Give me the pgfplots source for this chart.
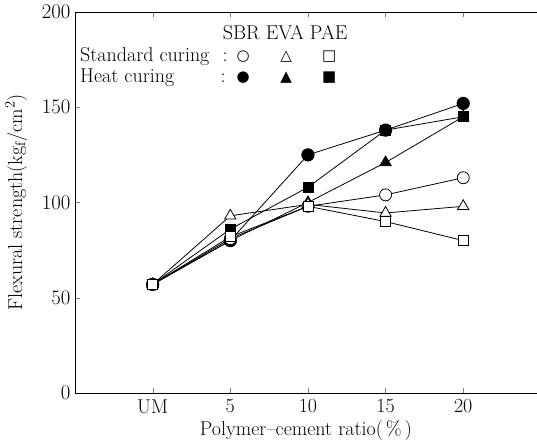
\documentclass[border=0pt]{standalone}
\usepackage{pgfplots}
\pgfplotsset{compat=1.18}
\usepackage{fontspec}
\newfontfamily\symfont{DejaVu Sans}
\newcommand{\bigf}{\fontsize{20}{23}\selectfont}
\begin{document}
\begin{tikzpicture}
\begin{axis}[
  scale only axis,
  width=462pt, height=381pt,
  xmin=-1, xmax=4.95,
  ymin=0, ymax=200,
  axis x line=box,
  axis y line*=left,
  tick align=inside,
  major tick length=5pt,
  xtick={0,1,2,3,4},
  xticklabels={UM,5,10,15,20},
  ytick={0,50,100,150,200},
  tick label style={font=\bigf},
  xticklabel style={yshift=-3pt},
  yticklabel style={xshift=-1pt},
  label style={font=\bigf},
  xlabel={Polymer--cement ratio(\,\%\,)},
  ylabel={Flexural strength(kg$_{\mathrm{f}}$/cm$^{2}$)},
  xlabel style={yshift=0pt},
  ylabel style={yshift=8pt},
  every axis plot/.append style={black, line width=0.8pt},
  clip=false,
]
% Heat curing
\addplot[mark=*, mark size=6.2pt, mark options={fill=black}] coordinates {(0,57) (1,80) (2,125) (3,138) (4,152)};
\addplot[mark=triangle*, mark size=6.5pt, mark options={fill=black}] coordinates {(0,57) (1,80) (2,100) (3,121) (4,145)};
\addplot[mark=square*, mark size=5pt, mark options={fill=black}] coordinates {(0,57) (1,86) (2,108) (3,138) (4,145)};
% Standard curing
\addplot[mark=*, mark size=6pt, mark options={fill=white}] coordinates {(0,57) (1,81) (2,98) (3,104) (4,113)};
\addplot[mark=triangle*, mark size=6.5pt, mark options={fill=white}] coordinates {(0,57) (1,93) (2,99) (3,94.5) (4,98)};
\addplot[mark=square*, mark size=5pt, mark options={fill=white}] coordinates {(0,57) (1,82) (2,98) (3,90) (4,80)};
% legend block
\node[font=\bigf] at (axis cs:1.706,189) {SBR EVA PAE};
\node[font=\bigf, anchor=west, inner sep=0pt] at (axis cs:-0.936,176.4) {Standard curing};
\node[font=\bigf, anchor=west, inner sep=0pt] at (axis cs:-0.936,165.4) {Heat curing};
\node[font=\bigf] at (axis cs:0.933,176.4) {:};
\node[font=\bigf] at (axis cs:0.907,165.4) {:};
\node[font=\symfont\fontsize{15}{17}\selectfont] at (axis cs:1.165,176.4) {○};
\node[font=\symfont\fontsize{15}{17}\selectfont] at (axis cs:1.719,176.4) {△};
\node[font=\symfont\fontsize{15}{17}\selectfont] at (axis cs:2.273,176.4) {□};
\node[font=\symfont\fontsize{15}{17}\selectfont] at (axis cs:1.165,165.4) {●};
\node[font=\symfont\fontsize{15}{17}\selectfont] at (axis cs:1.719,165.4) {▲};
\node[font=\symfont\fontsize{15}{17}\selectfont] at (axis cs:2.273,165.4) {■};
\coordinate (ll) at (rel axis cs:0,0);
\coordinate (ur) at (rel axis cs:1,1);
\end{axis}
\pgfresetboundingbox
\path[use as bounding box] ([xshift=-75pt,yshift=-55pt]ll) rectangle ([yshift=12pt]ur);
\end{tikzpicture}
\end{document}
